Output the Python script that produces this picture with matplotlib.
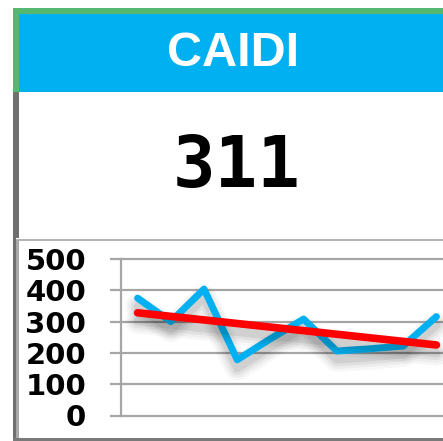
import matplotlib
matplotlib.use("Agg")
import matplotlib.pyplot as plt
import matplotlib.patheffects as pe
from matplotlib.patches import Rectangle
import numpy as np

title = "CAIDI"
kpi = "311"
caidi = [375, 300, 404, 178, 245, 308, 206, 213, 222, 316]
yticks = [0, 100, 200, 300, 400, 500]

blue = "#00B0F0"
green = "#55B86E"
grid_col = "#A6A6A6"

fig = plt.figure(figsize=(4.43, 4.41), dpi=100)

# card background drawn in pixel coords
bg = fig.add_axes([0, 0, 1, 1])
bg.set_xlim(0, 443)
bg.set_ylim(441, 0)
bg.axis("off")
bg.add_patch(Rectangle((13, 8), 430, 6, color=green, lw=0))
bg.add_patch(Rectangle((13, 8), 6, 84, color=green, lw=0))
bg.add_patch(Rectangle((19, 14), 424, 78, color=blue, lw=0))
bg.add_patch(Rectangle((13, 92), 6, 146, color="#707070", lw=0))
bg.add_patch(Rectangle((16, 238.5), 427, 2.5, color="#B4B4B4", lw=0))
bg.add_patch(Rectangle((13, 238), 3.5, 203, color="#707070", lw=0))
bg.add_patch(Rectangle((16.5, 240), 2.5, 198, color="#A8A8A8", lw=0))
bg.add_patch(Rectangle((13, 437.5), 430, 3.5, color="#7A7A7A", lw=0))
bg.text(233, 53, title, color="white", fontsize=35, fontweight="bold",
        family="Liberation Sans", ha="center", va="center")
bg.text(237, 168, kpi, color="black", fontsize=51, fontweight="bold",
        family="DejaVu Sans Mono", ha="center", va="center")

# small trend chart
ax = fig.add_axes([121 / 443, 1 - 415.5 / 441, 322 / 443, 156.5 / 441])
ax.patch.set_visible(False)
x = np.arange(len(caidi))
k, b = np.polyfit(x, caidi, 1)

shadow = [pe.SimpleLineShadow(offset=(0, -6), shadow_color="k", alpha=a, linewidth=w)
          for a, w in [(0.03, 18), (0.04, 14), (0.05, 10), (0.07, 6)]]
ax.plot(x, caidi, color=blue, lw=5, solid_capstyle="round", solid_joinstyle="round",
        path_effects=shadow + [pe.Normal()], zorder=3)
ax.plot(x, k * x + b, color="red", lw=5.5, solid_capstyle="round",
        path_effects=shadow + [pe.Normal()], zorder=4)

ax.set_xlim(-0.5, -0.5 + 322 / 33.2)
ax.set_ylim(0, 500)
ax.set_yticks(yticks)
ax.set_xticks([])
for s in ["top", "right", "bottom"]:
    ax.spines[s].set_visible(False)
ax.spines["left"].set_color(grid_col)
ax.spines["left"].set_linewidth(1.6)
ax.yaxis.grid(True, color=grid_col, lw=1.6)
for gl in ax.get_ygridlines():
    gl.set_clip_on(False)
ax.tick_params(axis="y", length=8, width=1.6, color=grid_col, pad=17)
for lab in ax.get_yticklabels():
    lab.set_fontsize(21)
    lab.set_fontweight("bold")
    lab.set_family("DejaVu Sans")

fig.savefig("out.png", dpi=100)
